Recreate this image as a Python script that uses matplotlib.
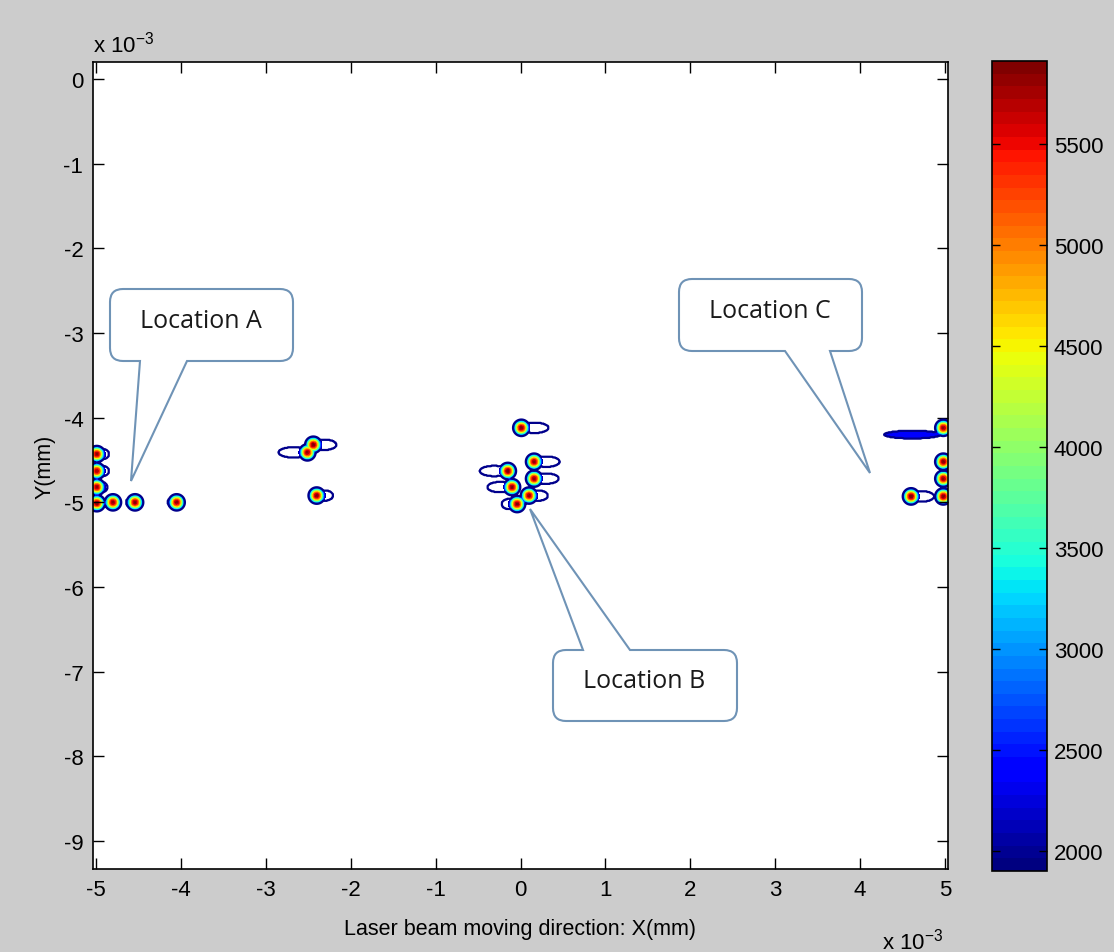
import numpy as np
import matplotlib
matplotlib.use("Agg")
import matplotlib.pyplot as plt
from matplotlib.path import Path
from matplotlib.patches import PathPatch
from matplotlib.colors import Normalize
from matplotlib.cm import ScalarMappable

plt.rcParams["font.family"] = ["Liberation Sans", "DejaVu Sans"]
plt.rcParams["mathtext.default"] = "regular"
plt.rcParams["axes.unicode_minus"] = False

# spot data, in units of 1e-3 mm
spot_x = [-4.99, -4.99, -4.99, -4.99, -4.80, -4.54, -4.05, -2.44, -2.51, -2.40,
          0.01, 0.16, -0.15, 0.16, -0.10, 0.10, -0.04,
          4.98, 4.98, 4.98, 4.98, 4.60]
spot_y = [-4.43, -4.63, -4.82, -5.01, -5.00, -5.00, -5.00, -4.32, -4.41, -4.92,
          -4.12, -4.52, -4.63, -4.72, -4.82, -4.92, -5.02,
          -4.12, -4.52, -4.72, -4.93, -4.93]
spot_peak = [5800, 5750, 5800, 5850, 5800, 5850, 5800, 5850, 5800, 5850,
             5850, 5800, 5900, 5800, 5850, 5800, 5850,
             5800, 5850, 5800, 5850, 5910]
# x where the faint wake behind each spot ends
tail_end = [-4.86, -4.86, -4.88, -4.99, -4.87, -4.63, -4.14, -2.18, -2.84, -2.22,
            0.32, 0.45, -0.47, 0.44, -0.38, 0.31, -0.21,
            4.98, 4.90, 4.90, 4.98, 4.86]

# long filled streak at location C
streak_x0, streak_x1, streak_y, streak_val = 4.27, 4.96, -4.20, 2350

cbar_min, cbar_max = 1900, 5910
cbar_ticks = [2000, 2500, 3000, 3500, 4000, 4500, 5000, 5500]

W, H = 1114, 953
fig = plt.figure(figsize=(W / 100, H / 100), dpi=100, facecolor="#cccccc")
ax = fig.add_axes([93 / W, 1 - 870 / H, 855 / W, 807 / H])
cax = fig.add_axes([992 / W, 1 - 872 / H, 55 / W, 810 / H])

# field on a grid
gx = np.arange(-5.05, 5.05, 0.008)
gy = np.arange(-9.35, 0.22, 0.008)
X, Y = np.meshgrid(gx, gy)
Z = np.zeros_like(X)
sig = 0.066
for x, y, p, te in zip(spot_x, spot_y, spot_peak, tail_end):
    Z = np.maximum(Z, p * np.exp(-((X - x) ** 2 + (Y - y) ** 2) / (2 * sig ** 2)))
    if abs(te - x) > 0.02:
        cx, a, b = (x + te) / 2, abs(te - x) / 2 + 0.02, 0.068
        r = np.sqrt(((X - cx) / a) ** 2 + ((Y - y) / b) ** 2)
        Z = np.maximum(Z, 1975 * np.clip((1 - r) * 25, 0, 1))
cx, a, b = (streak_x0 + streak_x1) / 2, (streak_x1 - streak_x0) / 2, 0.05
r = np.sqrt(((X - cx) / a) ** 2 + ((Y - streak_y) / b) ** 2)
Z = np.maximum(Z, streak_val * np.clip((1 - r) * 25, 0, 1))

cmap = plt.get_cmap("jet", 64)
norm = Normalize(cbar_min, cbar_max)
ax.contourf(X, Y, Z, levels=np.linspace(2000, cbar_max, 50), cmap=cmap, norm=norm)
ax.contour(X, Y, Z, levels=[1950], colors=["#00008c"], linewidths=1.6)

ax.set_xlim(-5.035, 5.035)
ax.set_ylim(-9.33, 0.2)
ax.set_xticks(range(-5, 6))
ax.set_yticks(range(-9, 1))
ax.tick_params(direction="in", length=8, width=1, top=True, right=True,
               labelsize=16, pad=7)
for s in ax.spines.values():
    s.set_linewidth(1.2)
ax.set_xlabel("Laser beam moving direction: X(mm)", fontsize=15.5, labelpad=13)
ax.set_ylabel("Y(mm)", fontsize=15.5, labelpad=6)
fig.text(93 / W, 1 - 52 / H, r"x 10$^{-3}$", fontsize=16)
fig.text(882 / W, 1 - 950 / H, r"x 10$^{-3}$", fontsize=16)

cb = fig.colorbar(ScalarMappable(norm=norm, cmap=cmap), cax=cax)
cb.set_ticks(cbar_ticks)
cax.tick_params(direction="in", length=6, width=1, left=True, right=True,
                labelsize=16, pad=5)
cb.outline.set_linewidth(1.2)


def bubble(x0, y0, x1, y1, side, b0, b1, tip, r=13):
    M, L, C, Z_ = Path.MOVETO, Path.LINETO, Path.CURVE3, Path.CLOSEPOLY
    v, c = [(x0 + r, y0)], [M]
    if side == "top":
        v += [(b0, y0), tip, (b1, y0)]; c += [L] * 3
    v += [(x1 - r, y0), (x1, y0), (x1, y0 + r), (x1, y1 - r), (x1, y1), (x1 - r, y1)]
    c += [L, C, C, L, C, C]
    if side == "bottom":
        v += [(b1, y1), tip, (b0, y1)]; c += [L] * 3
    v += [(x0 + r, y1), (x0, y1), (x0, y1 - r), (x0, y0 + r), (x0, y0), (x0 + r, y0), (0, 0)]
    c += [L, C, C, L, C, C, Z_]
    v = [(px / W, 1 - py / H) for px, py in v]
    fig.patches.append(PathPatch(Path(v, c), transform=fig.transFigure, facecolor="white",
                                 edgecolor="#6f93b6", lw=1.5, zorder=10))


callouts = [("Location A", (110, 290, 293, 362), "bottom", 140, 187, (131, 482)),
            ("Location B", (553, 651, 737, 722), "top", 583, 630, (530, 510)),
            ("Location C", (679, 280, 862, 352), "bottom", 785, 830, (870, 474))]
for label, (x0, y0, x1, y1), side, b0, b1, tip in callouts:
    bubble(x0, y0, x1, y1, side, b0, b1, tip)
    fig.text((x0 + x1) / 2 / W - 0.001, 1 - ((y0 + y1) / 2 - 5) / H, label, ha="center",
             va="center", fontsize=18, family="Open Sans", color="#1a1a1a", zorder=11)

fig.savefig("out.png", dpi=100, facecolor=fig.get_facecolor())
